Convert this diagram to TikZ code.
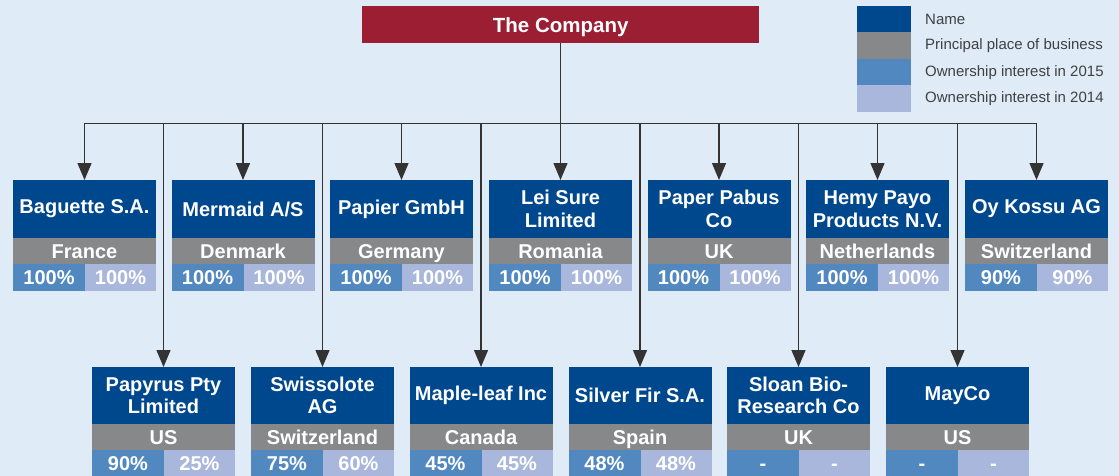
\documentclass[tikz,border=0pt]{standalone}
\usepackage{fontspec}
\setmainfont{Liberation Sans}
\usetikzlibrary{arrows.meta}
\definecolor{bg}{HTML}{DFEBF7}
\definecolor{cored}{HTML}{9C1E32}
\definecolor{nameblue}{HTML}{00488E}
\definecolor{placegray}{HTML}{87888A}
\definecolor{ownA}{HTML}{5288C0}
\definecolor{ownB}{HTML}{A8B7DB}
\definecolor{linecol}{HTML}{333333}
\definecolor{legtext}{HTML}{404040}
\tikzset{
  cell/.style={anchor=north west, inner sep=0pt, outer sep=0pt, text=white,
    font=\bfseries\fontsize{20}{22.5}\selectfont, align=center},
  namebox/.style={cell, fill=nameblue, minimum width=143pt},
  placebox/.style={cell, fill=placegray, minimum width=143pt, minimum height=26pt,
    text height=14.3pt, text depth=0pt},
  pctA/.style={cell, fill=ownA, minimum width=72pt, minimum height=27pt,
    text height=14.3pt, text depth=0pt},
  pctB/.style={pctA, fill=ownB, minimum width=71pt},
  conn/.style={draw=linecol, line width=1.3pt},
  arr/.style={conn, -{Triangle[width=14pt,length=17pt]}},
  legsq/.style={anchor=north west, inner sep=0pt, outer sep=0pt, minimum width=54pt, minimum height=26.5pt},
  legtxt/.style={anchor=west, inner sep=0pt, text=legtext, font=\fontsize{15}{17}\selectfont},
  compbox/.style={anchor=north west, inner sep=0pt, fill=cored, text=white,
    minimum width=397pt, minimum height=37pt, text height=14.8pt, text depth=0pt,
    font=\bfseries\fontsize{20.5}{24}\selectfont},
}
\newcommand\subsid[8]{%
  \node[namebox, minimum height=#8] (#1) at (#2,#3) {#4};
  \node[placebox] (#1-c) at (#1.south west) {#5};
  \node[pctA] (#1-a) at (#1-c.south west) {#6};
  \node[pctB] (#1-b) at (#1-a.north east) {#7};
}
\begin{document}
\begin{tikzpicture}[x=1pt,y=-1pt]
\fill[bg] (0,0) rectangle (1119,476);
\useasboundingbox (0,0) rectangle (1119,476);

% legend
\node[legsq, fill=nameblue] (l1) at (857,6) {};
\node[legsq, fill=placegray] (l2) at (l1.south west) {};
\node[legsq, fill=ownA] (l3) at (l2.south west) {};
\node[legsq, fill=ownB] (l4) at (l3.south west) {};
\node[legtxt] (t1) at (925,19) {Name};
\node[legtxt] (t2) at (925,46) {Principal place of business};
\node[legtxt] (t3) at (925,73) {Ownership interest in 2015};
\node[legtxt] (t4) at (925,99) {Ownership interest in 2014};

% company
\node[compbox] (comp) at (362,6) {The Company};

% top row
\subsid{bag}{13}{180}{Baguette S.A.}{France}{100\%}{100\%}{58pt}
\subsid{mer}{171.5}{180}{Mermaid A/S}{Denmark}{100\%}{100\%}{58pt}
\subsid{pap}{330}{180}{Papier GmbH}{Germany}{100\%}{100\%}{58pt}
\subsid{lei}{489}{180}{Lei Sure\\Limited}{Romania}{100\%}{100\%}{58pt}
\subsid{pab}{647.5}{180}{Paper Pabus\\Co}{UK}{100\%}{100\%}{58pt}
\subsid{hem}{806}{180}{Hemy Payo\\Products N.V.}{Netherlands}{100\%}{100\%}{58pt}
\subsid{oyk}{965}{180}{Oy Kossu AG}{Switzerland}{90\%}{90\%}{58pt}

% bottom row
\subsid{pyr}{92}{367}{Papyrus Pty\\Limited}{US}{90\%}{25\%}{57pt}
\subsid{swi}{251}{367}{Swissolote\\AG}{Switzerland}{75\%}{60\%}{57pt}
\subsid{map}{409.5}{367}{Maple-leaf Inc}{Canada}{45\%}{45\%}{57pt}
\subsid{sil}{568.5}{367}{Silver Fir S.A.}{Spain}{48\%}{48\%}{57pt}
\subsid{slo}{727}{367}{Sloan Bio-\\Research Co}{UK}{-}{-}{57pt}
\subsid{may}{886}{367}{MayCo}{US}{-}{-}{57pt}

% connectors
\coordinate (bus) at (560,123.5);
\draw[conn] (comp.south) -- (comp.south |- bus);
\draw[conn] (bus -| bag.north) -- (bus -| oyk.north);
\foreach \n in {bag,mer,pap,lei,pab,hem,oyk,pyr,swi,map,sil,slo,may}
  \draw[arr] (bus -| \n.north) -- (\n.north);
\end{tikzpicture}
\end{document}
